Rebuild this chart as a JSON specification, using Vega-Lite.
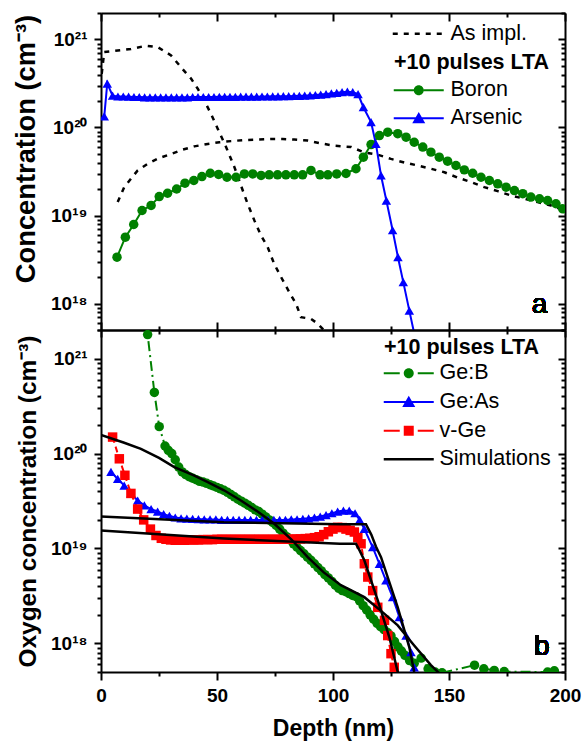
{
"$schema": "https://vega.github.io/schema/vega-lite/v6.json",
"background": "white",
"padding": {"left": 12, "top": 4, "right": 1, "bottom": 4},
"spacing": 0,
"bounds": "flush",
"config": {
  "font": "Liberation Sans",
  "view": {"stroke": null},
  "axis": {"domainColor": "black", "domainWidth": 2, "tickColor": "black", "tickWidth": 2, "labelColor": "black", "titleColor": "black", "grid": false, "labelFont": "Liberation Sans", "titleFont": "Liberation Sans", "labelFontWeight": "bold", "titleFontWeight": "bold", "labelFlush": false, "labelOverlap": false},
  "legend": {"labelFont": "Liberation Sans", "titleFont": "Liberation Sans", "labelColor": "black", "titleColor": "black"}
},
"resolve": {"scale": {"color": "independent", "shape": "independent", "strokeDash": "independent", "fill": "independent"}, "legend": {"color": "independent", "strokeDash": "independent", "shape": "independent", "fill": "independent"}},
"datasets": {
"top": [
{"d":0.3,"c":4.07e20,"s":"AsImpl"},{"d":1.4,"c":7.2e20,"s":"AsImpl"},{"d":7.2,"c":7.5e20,"s":"AsImpl"},{"d":12.9,"c":7.8e20,"s":"AsImpl"},{"d":19.4,"c":8.5e20,"s":"AsImpl"},{"d":24.4,"c":8.2e20,"s":"AsImpl"},{"d":30.2,"c":6.6e20,"s":"AsImpl"},{"d":35.2,"c":4.6e20,"s":"AsImpl"},{"d":38.8,"c":3.6e20,"s":"AsImpl"},{"d":41.7,"c":2.76e20,"s":"AsImpl"},{"d":44.5,"c":2.03e20,"s":"AsImpl"},{"d":47.4,"c":1.43e20,"s":"AsImpl"},{"d":50.3,"c":9.7e19,"s":"AsImpl"},{"d":53.9,"c":6.0e19,"s":"AsImpl"},{"d":57.5,"c":3.55e19,"s":"AsImpl"},{"d":60.3,"c":2.2e19,"s":"AsImpl"},{"d":63.2,"c":1.36e19,"s":"AsImpl"},{"d":66.1,"c":8.8e18,"s":"AsImpl"},{"d":69.0,"c":5.9e18,"s":"AsImpl"},{"d":71.8,"c":4.4e18,"s":"AsImpl"},{"d":74.7,"c":2.8e18,"s":"AsImpl"},{"d":77.6,"c":2.0e18,"s":"AsImpl"},{"d":81.2,"c":1.34e18,"s":"AsImpl"},{"d":84.1,"c":9.9e17,"s":"AsImpl"},{"d":86.2,"c":7.0e17,"s":"AsImpl"},{"d":90.5,"c":6.7e17,"s":"AsImpl"},{"d":93.4,"c":5.9e17,"s":"AsImpl"},{"d":96.0,"c":5.0e17,"s":"AsImpl"},{"d":98.0,"c":4.5e17,"s":"AsImpl"},
{"d":7.2,"c":1.42e19,"s":"BImpl"},{"d":10,"c":2.1e19,"s":"BImpl"},{"d":15.8,"c":3.25e19,"s":"BImpl"},{"d":20.1,"c":3.87e19,"s":"BImpl"},{"d":25.1,"c":4.5e19,"s":"BImpl"},{"d":30.2,"c":5.0e19,"s":"BImpl"},{"d":35.2,"c":5.6e19,"s":"BImpl"},{"d":40.2,"c":6.1e19,"s":"BImpl"},{"d":46,"c":6.5e19,"s":"BImpl"},{"d":51,"c":6.8e19,"s":"BImpl"},{"d":56,"c":7.0e19,"s":"BImpl"},{"d":61.8,"c":7.2e19,"s":"BImpl"},{"d":67.5,"c":7.3e19,"s":"BImpl"},{"d":73.3,"c":7.4e19,"s":"BImpl"},{"d":78.3,"c":7.4e19,"s":"BImpl"},{"d":83.3,"c":7.3e19,"s":"BImpl"},{"d":89.1,"c":7.1e19,"s":"BImpl"},{"d":94.8,"c":6.6e19,"s":"BImpl"},{"d":100.6,"c":6.2e19,"s":"BImpl"},{"d":107.8,"c":6.0e19,"s":"BImpl"},{"d":113.5,"c":5.2e19,"s":"BImpl"},{"d":119.3,"c":4.9e19,"s":"BImpl"},{"d":125,"c":4.4e19,"s":"BImpl"},{"d":130.7,"c":4.0e19,"s":"BImpl"},{"d":136.5,"c":3.7e19,"s":"BImpl"},{"d":142.2,"c":3.4e19,"s":"BImpl"},{"d":148,"c":3.1e19,"s":"BImpl"},{"d":153.7,"c":2.7e19,"s":"BImpl"},{"d":159.5,"c":2.4e19,"s":"BImpl"},{"d":165.2,"c":2.1e19,"s":"BImpl"},{"d":171,"c":1.89e19,"s":"BImpl"},{"d":176.7,"c":1.69e19,"s":"BImpl"},{"d":182.5,"c":1.55e19,"s":"BImpl"},{"d":188.2,"c":1.42e19,"s":"BImpl"},{"d":194,"c":1.3e19,"s":"BImpl"},{"d":199.7,"c":1.14e19,"s":"BImpl"},
{"d":6.9,"c":3.36e18,"s":"Boron"},{"d":10.5,"c":5.67e18,"s":"Boron"},{"d":14.1,"c":7.9e18,"s":"Boron"},{"d":17.7,"c":1.14e19,"s":"Boron"},{"d":21.6,"c":1.3e19,"s":"Boron"},{"d":25.1,"c":1.64e19,"s":"Boron"},{"d":28.7,"c":1.79e19,"s":"Boron"},{"d":32.6,"c":2.0e19,"s":"Boron"},{"d":36.2,"c":2.33e19,"s":"Boron"},{"d":40.0,"c":2.5e19,"s":"Boron"},{"d":43.5,"c":2.77e19,"s":"Boron"},{"d":47.1,"c":3.02e19,"s":"Boron"},{"d":50.7,"c":2.93e19,"s":"Boron"},{"d":54.3,"c":2.72e19,"s":"Boron"},{"d":58.2,"c":2.72e19,"s":"Boron"},{"d":61.8,"c":2.97e19,"s":"Boron"},{"d":65.4,"c":2.97e19,"s":"Boron"},{"d":69.0,"c":2.85e19,"s":"Boron"},{"d":72.5,"c":2.9e19,"s":"Boron"},{"d":76.1,"c":2.9e19,"s":"Boron"},{"d":79.7,"c":2.9e19,"s":"Boron"},{"d":83.3,"c":2.9e19,"s":"Boron"},{"d":86.9,"c":2.9e19,"s":"Boron"},{"d":90.5,"c":3.25e19,"s":"Boron"},{"d":94.4,"c":2.9e19,"s":"Boron"},{"d":97.8,"c":2.9e19,"s":"Boron"},{"d":101.6,"c":2.97e19,"s":"Boron"},{"d":105.6,"c":3.0e19,"s":"Boron"},{"d":109.9,"c":3.4e19,"s":"Boron"},{"d":113.1,"c":4.6e19,"s":"Boron"},{"d":116.4,"c":6.4e19,"s":"Boron"},{"d":120.0,"c":8.1e19,"s":"Boron"},{"d":123.6,"c":8.85e19,"s":"Boron"},{"d":127.9,"c":8.5e19,"s":"Boron"},{"d":131.5,"c":7.76e19,"s":"Boron"},{"d":135.0,"c":6.8e19,"s":"Boron"},{"d":138.7,"c":6.0e19,"s":"Boron"},{"d":142.2,"c":5.25e19,"s":"Boron"},{"d":145.8,"c":4.6e19,"s":"Boron"},{"d":149.4,"c":4.14e19,"s":"Boron"},{"d":153.0,"c":3.7e19,"s":"Boron"},{"d":156.6,"c":3.3e19,"s":"Boron"},{"d":160.2,"c":3.02e19,"s":"Boron"},{"d":163.8,"c":2.72e19,"s":"Boron"},{"d":167.4,"c":2.5e19,"s":"Boron"},{"d":171.0,"c":2.29e19,"s":"Boron"},{"d":174.6,"c":2.1e19,"s":"Boron"},{"d":178.2,"c":1.92e19,"s":"Boron"},{"d":181.8,"c":1.77e19,"s":"Boron"},{"d":185.3,"c":1.62e19,"s":"Boron"},{"d":189.0,"c":1.55e19,"s":"Boron"},{"d":192.5,"c":1.48e19,"s":"Boron"},{"d":196.1,"c":1.36e19,"s":"Boron"},{"d":199.0,"c":1.19e19,"s":"Boron"},
{"d":1.4,"c":1.34e20,"s":"Arsenic"},{"d":2.7,"c":3.16e20,"s":"Arsenic"},{"d":5.0,"c":2.3e20,"s":"Arsenic"},{"d":7.3,"c":2.25e20,"s":"Arsenic"},{"d":9.6,"c":2.25e20,"s":"Arsenic"},{"d":11.9,"c":2.24e20,"s":"Arsenic"},{"d":14.2,"c":2.22e20,"s":"Arsenic"},{"d":16.5,"c":2.22e20,"s":"Arsenic"},{"d":18.8,"c":2.2e20,"s":"Arsenic"},{"d":21.1,"c":2.2e20,"s":"Arsenic"},{"d":23.4,"c":2.2e20,"s":"Arsenic"},{"d":25.7,"c":2.2e20,"s":"Arsenic"},{"d":28.0,"c":2.2e20,"s":"Arsenic"},{"d":30.3,"c":2.2e20,"s":"Arsenic"},{"d":32.6,"c":2.2e20,"s":"Arsenic"},{"d":34.9,"c":2.2e20,"s":"Arsenic"},{"d":37.2,"c":2.2e20,"s":"Arsenic"},{"d":39.5,"c":2.22e20,"s":"Arsenic"},{"d":41.8,"c":2.22e20,"s":"Arsenic"},{"d":44.1,"c":2.22e20,"s":"Arsenic"},{"d":46.4,"c":2.22e20,"s":"Arsenic"},{"d":48.7,"c":2.22e20,"s":"Arsenic"},{"d":51.0,"c":2.23e20,"s":"Arsenic"},{"d":53.3,"c":2.23e20,"s":"Arsenic"},{"d":55.6,"c":2.23e20,"s":"Arsenic"},{"d":57.9,"c":2.23e20,"s":"Arsenic"},{"d":60.2,"c":2.24e20,"s":"Arsenic"},{"d":62.5,"c":2.24e20,"s":"Arsenic"},{"d":64.8,"c":2.24e20,"s":"Arsenic"},{"d":67.1,"c":2.24e20,"s":"Arsenic"},{"d":69.4,"c":2.25e20,"s":"Arsenic"},{"d":71.7,"c":2.25e20,"s":"Arsenic"},{"d":74.0,"c":2.26e20,"s":"Arsenic"},{"d":76.3,"c":2.26e20,"s":"Arsenic"},{"d":78.6,"c":2.27e20,"s":"Arsenic"},{"d":80.9,"c":2.27e20,"s":"Arsenic"},{"d":83.2,"c":2.28e20,"s":"Arsenic"},{"d":85.5,"c":2.29e20,"s":"Arsenic"},{"d":87.8,"c":2.3e20,"s":"Arsenic"},{"d":90.1,"c":2.32e20,"s":"Arsenic"},{"d":92.4,"c":2.34e20,"s":"Arsenic"},{"d":94.7,"c":2.37e20,"s":"Arsenic"},{"d":97.0,"c":2.4e20,"s":"Arsenic"},{"d":99.3,"c":2.44e20,"s":"Arsenic"},{"d":101.6,"c":2.48e20,"s":"Arsenic"},{"d":103.9,"c":2.52e20,"s":"Arsenic"},{"d":106.2,"c":2.55e20,"s":"Arsenic"},{"d":108.5,"c":2.52e20,"s":"Arsenic"},{"d":110.8,"c":2.4e20,"s":"Arsenic"},{"d":113.1,"c":1.7e20,"s":"Arsenic"},{"d":116.4,"c":1.15e20,"s":"Arsenic"},{"d":118.5,"c":6.5e19,"s":"Arsenic"},{"d":120.7,"c":2.85e19,"s":"Arsenic"},{"d":123.0,"c":1.48e19,"s":"Arsenic"},{"d":125.7,"c":6.8e18,"s":"Arsenic"},{"d":128.0,"c":3.36e18,"s":"Arsenic"},{"d":130.3,"c":1.75e18,"s":"Arsenic"},{"d":132.9,"c":8.3e17,"s":"Arsenic"},{"d":135.3,"c":4.2e17,"s":"Arsenic"}
],
"bot": [
{"d":18.5,"c":4.0e21,"s":"Ge:B","g":"Ge:B"},{"d":20.1,"c":1.79e21,"s":"Ge:B","g":"Ge:B"},{"d":23.0,"c":4.4e20,"s":"Ge:B","g":"Ge:B"},{"d":25.1,"c":1.92e20,"s":"Ge:B","g":"Ge:B"},{"d":27.6,"c":1.2e20,"s":"Ge:B","g":"Ge:B"},{"d":29.0,"c":1.08e20,"s":"Ge:B","g":"Ge:B"},{"d":30.5,"c":1.0e20,"s":"Ge:B","g":"Ge:B"},{"d":32.0,"c":8.6e19,"s":"Ge:B","g":"Ge:B"},{"d":33.5,"c":7.2e19,"s":"Ge:B","g":"Ge:B"},{"d":35,"c":6.4e19,"s":"Ge:B","g":"Ge:B"},{"d":36.5,"c":6.0e19,"s":"Ge:B","g":"Ge:B"},{"d":38,"c":5.7e19,"s":"Ge:B","g":"Ge:B"},{"d":39.5,"c":5.5e19,"s":"Ge:B","g":"Ge:B"},{"d":41,"c":5.3e19,"s":"Ge:B","g":"Ge:B"},{"d":42.5,"c":5.1e19,"s":"Ge:B","g":"Ge:B"},{"d":44,"c":5.0e19,"s":"Ge:B","g":"Ge:B"},{"d":45.5,"c":4.85e19,"s":"Ge:B","g":"Ge:B"},{"d":47,"c":4.7e19,"s":"Ge:B","g":"Ge:B"},{"d":48.5,"c":4.55e19,"s":"Ge:B","g":"Ge:B"},{"d":50,"c":4.4e19,"s":"Ge:B","g":"Ge:B"},{"d":51.5,"c":4.25e19,"s":"Ge:B","g":"Ge:B"},{"d":53,"c":4.1e19,"s":"Ge:B","g":"Ge:B"},{"d":54.5,"c":3.9e19,"s":"Ge:B","g":"Ge:B"},{"d":56,"c":3.7e19,"s":"Ge:B","g":"Ge:B"},{"d":57.5,"c":3.5e19,"s":"Ge:B","g":"Ge:B"},{"d":59,"c":3.3e19,"s":"Ge:B","g":"Ge:B"},{"d":60.5,"c":3.15e19,"s":"Ge:B","g":"Ge:B"},{"d":62,"c":3.0e19,"s":"Ge:B","g":"Ge:B"},{"d":63.5,"c":2.85e19,"s":"Ge:B","g":"Ge:B"},{"d":65,"c":2.7e19,"s":"Ge:B","g":"Ge:B"},{"d":66.5,"c":2.55e19,"s":"Ge:B","g":"Ge:B"},{"d":68,"c":2.45e19,"s":"Ge:B","g":"Ge:B"},{"d":69.5,"c":2.3e19,"s":"Ge:B","g":"Ge:B"},{"d":71,"c":2.15e19,"s":"Ge:B","g":"Ge:B"},{"d":72.5,"c":2.0e19,"s":"Ge:B","g":"Ge:B"},{"d":74,"c":1.88e19,"s":"Ge:B","g":"Ge:B"},{"d":75.5,"c":1.75e19,"s":"Ge:B","g":"Ge:B"},{"d":77,"c":1.6e19,"s":"Ge:B","g":"Ge:B"},{"d":78.5,"c":1.45e19,"s":"Ge:B","g":"Ge:B"},{"d":80,"c":1.33e19,"s":"Ge:B","g":"Ge:B"},{"d":81.5,"c":1.23e19,"s":"Ge:B","g":"Ge:B"},{"d":83,"c":1.12e19,"s":"Ge:B","g":"Ge:B"},{"d":84.5,"c":1.03e19,"s":"Ge:B","g":"Ge:B"},{"d":86,"c":9.5e18,"s":"Ge:B","g":"Ge:B"},{"d":87.5,"c":8.8e18,"s":"Ge:B","g":"Ge:B"},{"d":89,"c":8.1e18,"s":"Ge:B","g":"Ge:B"},{"d":90.5,"c":7.5e18,"s":"Ge:B","g":"Ge:B"},{"d":92,"c":6.9e18,"s":"Ge:B","g":"Ge:B"},{"d":93.5,"c":6.3e18,"s":"Ge:B","g":"Ge:B"},{"d":95,"c":5.8e18,"s":"Ge:B","g":"Ge:B"},{"d":96.5,"c":5.3e18,"s":"Ge:B","g":"Ge:B"},{"d":98,"c":4.9e18,"s":"Ge:B","g":"Ge:B"},{"d":99.5,"c":4.5e18,"s":"Ge:B","g":"Ge:B"},{"d":101,"c":4.1e18,"s":"Ge:B","g":"Ge:B"},{"d":102.5,"c":3.8e18,"s":"Ge:B","g":"Ge:B"},{"d":104,"c":3.6e18,"s":"Ge:B","g":"Ge:B"},{"d":105.5,"c":3.5e18,"s":"Ge:B","g":"Ge:B"},{"d":107,"c":3.35e18,"s":"Ge:B","g":"Ge:B"},{"d":108.5,"c":3.2e18,"s":"Ge:B","g":"Ge:B"},{"d":110,"c":3.1e18,"s":"Ge:B","g":"Ge:B"},{"d":111.5,"c":2.8e18,"s":"Ge:B","g":"Ge:B"},{"d":113,"c":2.5e18,"s":"Ge:B","g":"Ge:B"},{"d":114.5,"c":2.25e18,"s":"Ge:B","g":"Ge:B"},{"d":116,"c":2.0e18,"s":"Ge:B","g":"Ge:B"},{"d":117.5,"c":1.8e18,"s":"Ge:B","g":"Ge:B"},{"d":119,"c":1.63e18,"s":"Ge:B","g":"Ge:B"},{"d":120.5,"c":1.5e18,"s":"Ge:B","g":"Ge:B"},{"d":122,"c":1.4e18,"s":"Ge:B","g":"Ge:B"},{"d":123.5,"c":1.3e18,"s":"Ge:B","g":"Ge:B"},{"d":125,"c":1.2e18,"s":"Ge:B","g":"Ge:B"},{"d":126.5,"c":1.05e18,"s":"Ge:B","g":"Ge:B"},{"d":128,"c":9.2e17,"s":"Ge:B","g":"Ge:B"},{"d":129.5,"c":8.3e17,"s":"Ge:B","g":"Ge:B"},{"d":131,"c":7.5e17,"s":"Ge:B","g":"Ge:B"},{"d":133,"c":6.6e17,"s":"Ge:B","g":"Ge:B"},{"d":135,"c":6.2e17,"s":"Ge:B","g":"Ge:B"},{"d":138,"c":7.0e17,"s":"Ge:B","g":"Ge:B"},{"d":141,"c":5.4e17,"s":"Ge:B","g":"Ge:B"},{"d":144,"c":5.0e17,"s":"Ge:B","g":"Ge:B"},{"d":147,"c":4.9e17,"s":"Ge:B","g":"Ge:B"},{"d":161,"c":5.9e17,"s":"Ge:B","g":"Ge:B"},{"d":165,"c":5.4e17,"s":"Ge:B","g":"Ge:B"},{"d":169.5,"c":5.2e17,"s":"Ge:B","g":"Ge:B"},{"d":173.8,"c":5.05e17,"s":"Ge:B","g":"Ge:B"},{"d":192.5,"c":5.0e17,"s":"Ge:B","g":"Ge:B"},{"d":195.4,"c":5.15e17,"s":"Ge:B","g":"Ge:B"},
{"d":4.3,"c":6.4e19,"s":"Ge:As","g":"Ge:As"},{"d":7.2,"c":5.4e19,"s":"Ge:As","g":"Ge:As"},{"d":10,"c":4.6e19,"s":"Ge:As","g":"Ge:As"},{"d":12.9,"c":3.8e19,"s":"Ge:As","g":"Ge:As"},{"d":15.8,"c":3.2e19,"s":"Ge:As","g":"Ge:As"},{"d":18.7,"c":2.84e19,"s":"Ge:As","g":"Ge:As"},{"d":21.6,"c":2.6e19,"s":"Ge:As","g":"Ge:As"},{"d":24.4,"c":2.45e19,"s":"Ge:As","g":"Ge:As"},{"d":27,"c":2.3e19,"s":"Ge:As","g":"Ge:As"},{"d":29.5,"c":2.2e19,"s":"Ge:As","g":"Ge:As"},{"d":32,"c":2.12e19,"s":"Ge:As","g":"Ge:As"},{"d":34.5,"c":2.08e19,"s":"Ge:As","g":"Ge:As"},{"d":37,"c":2.06e19,"s":"Ge:As","g":"Ge:As"},{"d":39.5,"c":2.05e19,"s":"Ge:As","g":"Ge:As"},{"d":42,"c":2.04e19,"s":"Ge:As","g":"Ge:As"},{"d":44.5,"c":2.03e19,"s":"Ge:As","g":"Ge:As"},{"d":47,"c":2.02e19,"s":"Ge:As","g":"Ge:As"},{"d":49.5,"c":2.02e19,"s":"Ge:As","g":"Ge:As"},{"d":52,"c":2.0e19,"s":"Ge:As","g":"Ge:As"},{"d":54.5,"c":2.0e19,"s":"Ge:As","g":"Ge:As"},{"d":57,"c":2.0e19,"s":"Ge:As","g":"Ge:As"},{"d":59.5,"c":2.0e19,"s":"Ge:As","g":"Ge:As"},{"d":62,"c":2.0e19,"s":"Ge:As","g":"Ge:As"},{"d":64.5,"c":2.0e19,"s":"Ge:As","g":"Ge:As"},{"d":67,"c":2.0e19,"s":"Ge:As","g":"Ge:As"},{"d":69.5,"c":2.0e19,"s":"Ge:As","g":"Ge:As"},{"d":72,"c":2.0e19,"s":"Ge:As","g":"Ge:As"},{"d":74.5,"c":2.0e19,"s":"Ge:As","g":"Ge:As"},{"d":77,"c":2.0e19,"s":"Ge:As","g":"Ge:As"},{"d":79.5,"c":2.0e19,"s":"Ge:As","g":"Ge:As"},{"d":82,"c":2.02e19,"s":"Ge:As","g":"Ge:As"},{"d":84.5,"c":2.03e19,"s":"Ge:As","g":"Ge:As"},{"d":87,"c":2.05e19,"s":"Ge:As","g":"Ge:As"},{"d":89.5,"c":2.08e19,"s":"Ge:As","g":"Ge:As"},{"d":92,"c":2.12e19,"s":"Ge:As","g":"Ge:As"},{"d":94.5,"c":2.17e19,"s":"Ge:As","g":"Ge:As"},{"d":97,"c":2.25e19,"s":"Ge:As","g":"Ge:As"},{"d":99.5,"c":2.35e19,"s":"Ge:As","g":"Ge:As"},{"d":102,"c":2.45e19,"s":"Ge:As","g":"Ge:As"},{"d":104.5,"c":2.5e19,"s":"Ge:As","g":"Ge:As"},{"d":107,"c":2.5e19,"s":"Ge:As","g":"Ge:As"},{"d":109.5,"c":2.35e19,"s":"Ge:As","g":"Ge:As"},{"d":111.5,"c":2.0e19,"s":"Ge:As","g":"Ge:As"},{"d":113.5,"c":1.61e19,"s":"Ge:As","g":"Ge:As"},{"d":117.1,"c":1.03e19,"s":"Ge:As","g":"Ge:As"},{"d":120,"c":6.9e18,"s":"Ge:As","g":"Ge:As"},{"d":122.8,"c":4.6e18,"s":"Ge:As","g":"Ge:As"},{"d":125.7,"c":3.07e18,"s":"Ge:As","g":"Ge:As"},{"d":128.6,"c":1.89e18,"s":"Ge:As","g":"Ge:As"},{"d":131.5,"c":1.21e18,"s":"Ge:As","g":"Ge:As"},{"d":133.6,"c":8.1e17,"s":"Ge:As","g":"Ge:As"},{"d":135,"c":5.6e17,"s":"Ge:As","g":"Ge:As"},
{"d":5,"c":1.49e20,"s":"v-Ge","g":"v-Ge"},{"d":7.9,"c":8.8e19,"s":"v-Ge","g":"v-Ge"},{"d":10.3,"c":5.9e19,"s":"v-Ge","g":"v-Ge"},{"d":12.9,"c":3.8e19,"s":"v-Ge","g":"v-Ge"},{"d":15.8,"c":2.6e19,"s":"v-Ge","g":"v-Ge"},{"d":18.4,"c":2.0e19,"s":"v-Ge","g":"v-Ge"},{"d":21.3,"c":1.6e19,"s":"v-Ge","g":"v-Ge"},{"d":23.7,"c":1.37e19,"s":"v-Ge","g":"v-Ge"},{"d":26,"c":1.28e19,"s":"v-Ge","g":"v-Ge"},{"d":28,"c":1.25e19,"s":"v-Ge","g":"v-Ge"},{"d":30,"c":1.23e19,"s":"v-Ge","g":"v-Ge"},{"d":32,"c":1.22e19,"s":"v-Ge","g":"v-Ge"},{"d":34,"c":1.22e19,"s":"v-Ge","g":"v-Ge"},{"d":36,"c":1.22e19,"s":"v-Ge","g":"v-Ge"},{"d":38,"c":1.23e19,"s":"v-Ge","g":"v-Ge"},{"d":40,"c":1.23e19,"s":"v-Ge","g":"v-Ge"},{"d":42,"c":1.23e19,"s":"v-Ge","g":"v-Ge"},{"d":44,"c":1.24e19,"s":"v-Ge","g":"v-Ge"},{"d":46,"c":1.24e19,"s":"v-Ge","g":"v-Ge"},{"d":48,"c":1.24e19,"s":"v-Ge","g":"v-Ge"},{"d":50,"c":1.25e19,"s":"v-Ge","g":"v-Ge"},{"d":52,"c":1.25e19,"s":"v-Ge","g":"v-Ge"},{"d":54,"c":1.25e19,"s":"v-Ge","g":"v-Ge"},{"d":56,"c":1.25e19,"s":"v-Ge","g":"v-Ge"},{"d":58,"c":1.25e19,"s":"v-Ge","g":"v-Ge"},{"d":60,"c":1.25e19,"s":"v-Ge","g":"v-Ge"},{"d":62,"c":1.25e19,"s":"v-Ge","g":"v-Ge"},{"d":64,"c":1.25e19,"s":"v-Ge","g":"v-Ge"},{"d":66,"c":1.25e19,"s":"v-Ge","g":"v-Ge"},{"d":68,"c":1.25e19,"s":"v-Ge","g":"v-Ge"},{"d":70,"c":1.25e19,"s":"v-Ge","g":"v-Ge"},{"d":72,"c":1.25e19,"s":"v-Ge","g":"v-Ge"},{"d":74,"c":1.25e19,"s":"v-Ge","g":"v-Ge"},{"d":76,"c":1.25e19,"s":"v-Ge","g":"v-Ge"},{"d":78,"c":1.25e19,"s":"v-Ge","g":"v-Ge"},{"d":80,"c":1.25e19,"s":"v-Ge","g":"v-Ge"},{"d":82,"c":1.25e19,"s":"v-Ge","g":"v-Ge"},{"d":84,"c":1.26e19,"s":"v-Ge","g":"v-Ge"},{"d":86,"c":1.26e19,"s":"v-Ge","g":"v-Ge"},{"d":88,"c":1.27e19,"s":"v-Ge","g":"v-Ge"},{"d":90,"c":1.28e19,"s":"v-Ge","g":"v-Ge"},{"d":92,"c":1.3e19,"s":"v-Ge","g":"v-Ge"},{"d":94,"c":1.33e19,"s":"v-Ge","g":"v-Ge"},{"d":96,"c":1.4e19,"s":"v-Ge","g":"v-Ge"},{"d":98,"c":1.5e19,"s":"v-Ge","g":"v-Ge"},{"d":100,"c":1.6e19,"s":"v-Ge","g":"v-Ge"},{"d":102,"c":1.67e19,"s":"v-Ge","g":"v-Ge"},{"d":104,"c":1.66e19,"s":"v-Ge","g":"v-Ge"},{"d":105.6,"c":1.6e19,"s":"v-Ge","g":"v-Ge"},{"d":107.4,"c":1.55e19,"s":"v-Ge","g":"v-Ge"},{"d":109.2,"c":1.49e19,"s":"v-Ge","g":"v-Ge"},{"d":110.7,"c":1.3e19,"s":"v-Ge","g":"v-Ge"},{"d":112.1,"c":1.12e19,"s":"v-Ge","g":"v-Ge"},{"d":113.5,"c":6.9e18,"s":"v-Ge","g":"v-Ge"},{"d":115,"c":5.0e18,"s":"v-Ge","g":"v-Ge"},{"d":117.1,"c":3.6e18,"s":"v-Ge","g":"v-Ge"},{"d":119.3,"c":2.4e18,"s":"v-Ge","g":"v-Ge"},{"d":122.2,"c":1.75e18,"s":"v-Ge","g":"v-Ge"},{"d":123.6,"c":1.21e18,"s":"v-Ge","g":"v-Ge"},{"d":125,"c":7.8e17,"s":"v-Ge","g":"v-Ge"},{"d":126.4,"c":5.6e17,"s":"v-Ge","g":"v-Ge"},
{"d":0,"c":1.57e20,"s":"SimB","g":"Simulations"},{"d":10,"c":1.3e20,"s":"SimB","g":"Simulations"},{"d":17.2,"c":1.12e20,"s":"SimB","g":"Simulations"},{"d":25,"c":9.0e19,"s":"SimB","g":"Simulations"},{"d":31.6,"c":7.2e19,"s":"SimB","g":"Simulations"},{"d":40,"c":5.9e19,"s":"SimB","g":"Simulations"},{"d":46,"c":5.0e19,"s":"SimB","g":"Simulations"},{"d":53,"c":4.1e19,"s":"SimB","g":"Simulations"},{"d":60.3,"c":3.2e19,"s":"SimB","g":"Simulations"},{"d":67.5,"c":2.45e19,"s":"SimB","g":"Simulations"},{"d":74.7,"c":1.82e19,"s":"SimB","g":"Simulations"},{"d":82,"c":1.25e19,"s":"SimB","g":"Simulations"},{"d":89.1,"c":8.1e18,"s":"SimB","g":"Simulations"},{"d":96,"c":5.6e18,"s":"SimB","g":"Simulations"},{"d":103.4,"c":4.1e18,"s":"SimB","g":"Simulations"},{"d":113.5,"c":3.07e18,"s":"SimB","g":"Simulations"},{"d":120.7,"c":2.2e18,"s":"SimB","g":"Simulations"},{"d":127.9,"c":1.55e18,"s":"SimB","g":"Simulations"},{"d":135,"c":9.5e17,"s":"SimB","g":"Simulations"},{"d":142.2,"c":5.9e17,"s":"SimB","g":"Simulations"},{"d":146,"c":4.8e17,"s":"SimB","g":"Simulations"},
{"d":0,"c":2.17e19,"s":"SimAs","g":"Simulations"},{"d":53,"c":1.89e19,"s":"SimAs","g":"Simulations"},{"d":103,"c":1.8e19,"s":"SimAs","g":"Simulations"},{"d":114.2,"c":1.8e19,"s":"SimAs","g":"Simulations"},{"d":116.5,"c":1.4e19,"s":"SimAs","g":"Simulations"},{"d":118.5,"c":1.05e19,"s":"SimAs","g":"Simulations"},{"d":120.7,"c":8.1e18,"s":"SimAs","g":"Simulations"},{"d":127.9,"c":2.4e18,"s":"SimAs","g":"Simulations"},{"d":132.9,"c":9.1e17,"s":"SimAs","g":"Simulations"},{"d":135,"c":5.0e17,"s":"SimAs","g":"Simulations"},{"d":136,"c":4.0e17,"s":"SimAs","g":"Simulations"},
{"d":0,"c":1.55e19,"s":"SimV","g":"Simulations"},{"d":53,"c":1.27e19,"s":"SimV","g":"Simulations"},{"d":103,"c":1.12e19,"s":"SimV","g":"Simulations"},{"d":109.9,"c":1.12e19,"s":"SimV","g":"Simulations"},{"d":111.5,"c":9.5e18,"s":"SimV","g":"Simulations"},{"d":113.5,"c":7.5e18,"s":"SimV","g":"Simulations"},{"d":119.3,"c":2.84e18,"s":"SimV","g":"Simulations"},{"d":124.3,"c":1.16e18,"s":"SimV","g":"Simulations"},{"d":127.9,"c":5.0e17,"s":"SimV","g":"Simulations"},{"d":128.5,"c":4.5e17,"s":"SimV","g":"Simulations"}
]
},
"vconcat": [
{
 "width": 464, "height": 317,
 "data": {"name": "top"},
 "resolve": {"axis": {"x": "independent", "y": "independent"}},
 "layer": [
  {
   "transform": [{"filter": "datum.s === 'AsImpl' || datum.s === 'BImpl'"}],
   "mark": {"type": "line", "color": "black", "strokeWidth": 2.5, "clip": true},
   "encoding": {
    "x": {"field": "d", "type": "quantitative", "scale": {"domain": [0, 200], "nice": false},
          "axis": {"orient": "bottom", "offset": -317, "values": [0,25,50,75,100,125,150,175,200], "labels": false, "title": null, "tickSize": {"condition": {"test": "datum.value % 50 === 0", "value": 8}, "value": 4}}},
    "y": {"field": "c", "type": "quantitative", "scale": {"type": "log", "domain": [5e17, 2e21], "nice": false},
          "axis": {"orient": "left", "offset": -464, "values": [5e17,6e17,7e17,8e17,9e17,1e18,2e18,3e18,4e18,5e18,6e18,7e18,8e18,9e18,1e19,2e19,3e19,4e19,5e19,6e19,7e19,8e19,9e19,1e20,2e20,3e20,4e20,5e20,6e20,7e20,8e20,9e20,1e21,2e21], "labels": false, "title": null, "tickSize": {"condition": {"test": "datum.value==1e18||datum.value==1e19||datum.value==1e20||datum.value==1e21", "value": 7}, "value": 4}}},
    "detail": {"field": "s"},
    "strokeDash": {"datum": "As impl.", "type": "nominal", "scale": {"range": [[5, 6]]},
      "legend": {"title": null, "orient": "none", "legendX": 293, "legendY": 10, "labelFontSize": 21.5, "labelOffset": 35, "symbolSize": 100, "symbolType": "M-2.4,0H7.6", "symbolStrokeWidth": 2.5, "symbolStrokeColor": "black"}}
   }
  },
  {
   "transform": [{"filter": "datum.s === 'Boron' || datum.s === 'Arsenic'"}],
   "mark": {"type": "line", "strokeWidth": 2, "clip": true},
   "encoding": {
    "x": {"field": "d", "type": "quantitative", "scale": {"domain": [0, 200], "nice": false},
          "axis": {"orient": "top", "offset": -317, "values": [0,25,50,75,100,125,150,175,200], "labels": false, "title": null, "tickSize": {"condition": {"test": "datum.value % 50 === 0", "value": 8}, "value": 4}}},
    "y": {"field": "c", "type": "quantitative", "scale": {"type": "log", "domain": [5e17, 2e21], "nice": false},
          "axis": {"orient": "left", "values": [5e17,6e17,7e17,8e17,9e17,1e18,2e18,3e18,4e18,5e18,6e18,7e18,8e18,9e18,1e19,2e19,3e19,4e19,5e19,6e19,7e19,8e19,9e19,1e20,2e20,3e20,4e20,5e20,6e20,7e20,8e20,9e20,1e21,2e21],
                   "labelExpr": "datum.value==1e18?'10¹⁸':datum.value==1e19?'10¹⁹':datum.value==1e20?'10²⁰':datum.value==1e21?'10²¹':''",
                   "labelFontSize": 19, "labelPadding": 7, "title": "Concentration (cm⁻³)", "titleFontSize": 27.3, "titlePadding": 10, "titleY": 135.5,
                   "tickSize": {"condition": {"test": "datum.value==1e18||datum.value==1e19||datum.value==1e20||datum.value==1e21", "value": 7}, "value": 4}}},
    "color": {"field": "s", "type": "nominal", "scale": {"domain": ["Arsenic", "Boron"], "range": ["#0000ff", "#008000"]}, "legend": null}
   }
  },
  {
   "transform": [{"filter": "datum.s === 'Boron'"}],
   "mark": {"type": "point", "shape": "circle", "filled": true, "opacity": 1, "size": 90, "color": "#008000", "clip": true},
   "encoding": {
    "x": {"field": "d", "type": "quantitative", "axis": null},
    "y": {"field": "c", "type": "quantitative", "axis": null}
   }
  },
  {
   "transform": [{"filter": "datum.s === 'Arsenic'"}],
   "mark": {"type": "point", "shape": "triangle-up", "filled": true, "opacity": 1, "size": 90, "color": "#0000ff", "clip": true},
   "encoding": {
    "x": {"field": "d", "type": "quantitative", "axis": null},
    "y": {"field": "c", "type": "quantitative", "axis": null}
   }
  },
  {
   "transform": [{"filter": "false"}],
   "mark": {"type": "point", "filled": true, "opacity": 1, "size": 100},
   "encoding": {
    "x": {"field": "d", "type": "quantitative", "axis": null},
    "y": {"field": "c", "type": "quantitative", "axis": null},
    "fill": {"field": "s", "type": "nominal", "scale": {"domain": ["Boron", "Arsenic"], "range": ["#008000", "#0000ff"]},
      "legend": {"title": "+10 pulses LTA", "orient": "none", "legendX": 293, "legendY": 39, "titleFontSize": 21.5, "titleFontWeight": "bold", "titlePadding": 6, "labelFontSize": 21.5, "labelOffset": 35, "symbolSize": 100, "symbolStrokeWidth": 0, "rowPadding": 5}},
    "shape": {"field": "s", "type": "nominal", "scale": {"domain": ["Boron", "Arsenic"], "range": ["M-2.2,-0.2H1.8V0.2H-2.2Z M3.8,-0.2H7.8V0.2H3.8Z M1.8,0A1,1 0 1,1 3.8,0A1,1 0 1,1 1.8,0Z", "M-2.2,-0.2H7.8V0.2H-2.2Z M2.8,-1.25L4.1,1L1.5,1Z"]},
      "legend": {"title": "+10 pulses LTA", "orient": "none", "legendX": 293, "legendY": 39, "titleFontSize": 21.5, "titleFontWeight": "bold", "titlePadding": 6, "labelFontSize": 21.5, "labelOffset": 35, "symbolSize": 100, "symbolStrokeWidth": 0, "rowPadding": 5}}
   }
  },
  {
   "mark": {"type": "text", "fontSize": 28, "font": "Liberation Sans", "fontWeight": "normal", "align": "center", "baseline": "alphabetic", "color": "black"},
   "encoding": {
    "x": {"datum": 189, "type": "quantitative", "axis": null},
    "y": {"datum": 7.9e17, "type": "quantitative", "axis": null},
    "text": {"value": "a"}
   }
  }
 ]
},
{
 "width": 464, "height": 342,
 "data": {"name": "bot"},
 "resolve": {"axis": {"x": "independent", "y": "independent"}},
 "layer": [
  {
   "transform": [{"filter": "datum.g !== 'Simulations'"}],
   "mark": {"type": "line", "strokeWidth": 2, "clip": true},
   "encoding": {
    "x": {"field": "d", "type": "quantitative", "scale": {"domain": [0, 200], "nice": false},
          "axis": {"orient": "bottom", "offset": -342, "values": [0,25,50,75,100,125,150,175,200], "labels": false, "title": null, "tickSize": {"condition": {"test": "datum.value % 50 === 0", "value": 7}, "value": 4}}},
    "y": {"field": "c", "type": "quantitative", "scale": {"type": "log", "domain": [5e17, 2e21], "nice": false},
          "axis": {"orient": "left", "offset": -464, "values": [5e17,6e17,7e17,8e17,9e17,1e18,2e18,3e18,4e18,5e18,6e18,7e18,8e18,9e18,1e19,2e19,3e19,4e19,5e19,6e19,7e19,8e19,9e19,1e20,2e20,3e20,4e20,5e20,6e20,7e20,8e20,9e20,1e21,2e21], "labels": false, "title": null, "tickSize": {"condition": {"test": "datum.value==1e18||datum.value==1e19||datum.value==1e20||datum.value==1e21", "value": 7}, "value": 4}}},
    "color": {"field": "g", "type": "nominal", "scale": {"domain": ["Ge:B", "Ge:As", "v-Ge"], "range": ["#008000", "#0000ff", "#ff0000"]}, "legend": null},
    "strokeDash": {"field": "g", "type": "nominal", "scale": {"domain": ["Ge:B", "Ge:As", "v-Ge"], "range": [[10, 4, 2, 4], [1, 0], [6, 4]]}, "legend": null}
   }
  },
  {
   "transform": [{"filter": "datum.g === 'Ge:B'"}],
   "mark": {"type": "point", "shape": "circle", "filled": true, "opacity": 1, "size": 90, "color": "#008000", "clip": true},
   "encoding": {
    "x": {"field": "d", "type": "quantitative", "axis": null},
    "y": {"field": "c", "type": "quantitative", "axis": null}
   }
  },
  {
   "transform": [{"filter": "datum.g === 'Ge:As'"}],
   "mark": {"type": "point", "shape": "triangle-up", "filled": true, "opacity": 1, "size": 90, "color": "#0000ff", "clip": true},
   "encoding": {
    "x": {"field": "d", "type": "quantitative", "axis": null},
    "y": {"field": "c", "type": "quantitative", "axis": null}
   }
  },
  {
   "transform": [{"filter": "datum.g === 'v-Ge'"}],
   "mark": {"type": "point", "shape": "square", "filled": true, "opacity": 1, "size": 90, "color": "#ff0000", "clip": true},
   "encoding": {
    "x": {"field": "d", "type": "quantitative", "axis": null},
    "y": {"field": "c", "type": "quantitative", "axis": null}
   }
  },
  {
   "transform": [{"filter": "datum.g === 'Simulations'"}],
   "mark": {"type": "line", "strokeWidth": 2.5, "color": "black", "clip": true},
   "encoding": {
    "x": {"field": "d", "type": "quantitative", "scale": {"domain": [0, 200], "nice": false},
          "axis": {"orient": "bottom", "values": [0,25,50,75,100,125,150,175,200], "labelExpr": "datum.value % 50 === 0 ? datum.label : ''", "labelFontSize": 19, "labelPadding": 6, "title": "Depth (nm)", "titleFontSize": 23, "titlePadding": 12, "tickSize": {"condition": {"test": "datum.value % 50 === 0", "value": 8}, "value": 4}}},
    "y": {"field": "c", "type": "quantitative", "scale": {"type": "log", "domain": [5e17, 2e21], "nice": false},
          "axis": {"orient": "left", "values": [5e17,6e17,7e17,8e17,9e17,1e18,2e18,3e18,4e18,5e18,6e18,7e18,8e18,9e18,1e19,2e19,3e19,4e19,5e19,6e19,7e19,8e19,9e19,1e20,2e20,3e20,4e20,5e20,6e20,7e20,8e20,9e20,1e21,2e21],
                   "labelExpr": "datum.value==1e18?'10¹⁸':datum.value==1e19?'10¹⁹':datum.value==1e20?'10²⁰':datum.value==1e21?'10²¹':''",
                   "labelFontSize": 19, "labelPadding": 7, "title": "Oxygen concentration (cm⁻³)", "titleFontSize": 24.4, "titlePadding": 10,
                   "tickSize": {"condition": {"test": "datum.value==1e18||datum.value==1e19||datum.value==1e20||datum.value==1e21", "value": 7}, "value": 4}}},
    "detail": {"field": "s"}
   }
  },
  {
   "transform": [{"filter": "false"}],
   "mark": {"type": "point", "filled": true, "opacity": 1, "size": 100},
   "encoding": {
    "x": {"field": "d", "type": "quantitative", "axis": null},
    "y": {"field": "c", "type": "quantitative", "axis": null},
    "fill": {"field": "g", "type": "nominal", "scale": {"domain": ["Ge:B", "Ge:As", "v-Ge", "Simulations"], "range": ["#008000", "#0000ff", "#ff0000", "#000000"]},
      "legend": {"title": "+10 pulses LTA", "orient": "none", "legendX": 283, "legendY": 7, "titleFontSize": 21.5, "titleFontWeight": "bold", "titlePadding": 4, "labelFontSize": 21.5, "labelOffset": 34, "symbolSize": 100, "symbolStrokeWidth": 0, "rowPadding": 5.7}},
    "shape": {"field": "g", "type": "nominal", "scale": {"domain": ["Ge:B", "Ge:As", "v-Ge", "Simulations"], "range": ["M-2.2,-0.2H1V0.2H-2.2Z M4.6,-0.2H7.8V0.2H4.6Z M1.8,0A1,1 0 1,1 3.8,0A1,1 0 1,1 1.8,0Z", "M-2.2,-0.2H7.8V0.2H-2.2Z M2.8,-1.25L4.1,1L1.5,1Z", "M-2.2,-0.2H1V0.2H-2.2Z M4.6,-0.2H7.8V0.2H4.6Z M1.8,-1H3.8V1H1.8Z", "M-2.2,-0.25H7.8V0.25H-2.2Z"]},
      "legend": {"title": "+10 pulses LTA", "orient": "none", "legendX": 283, "legendY": 7, "titleFontSize": 21.5, "titleFontWeight": "bold", "titlePadding": 4, "labelFontSize": 21.5, "labelOffset": 34, "symbolSize": 100, "symbolStrokeWidth": 0, "rowPadding": 5.7}}
   }
  },
  {
   "mark": {"type": "text", "fontSize": 28, "font": "Liberation Sans", "fontWeight": "normal", "align": "center", "baseline": "alphabetic", "color": "black"},
   "encoding": {
    "x": {"datum": 190, "type": "quantitative", "axis": null},
    "y": {"datum": 7.5e17, "type": "quantitative", "axis": null},
    "text": {"value": "b"}
   }
  }
 ]
}
]
}
